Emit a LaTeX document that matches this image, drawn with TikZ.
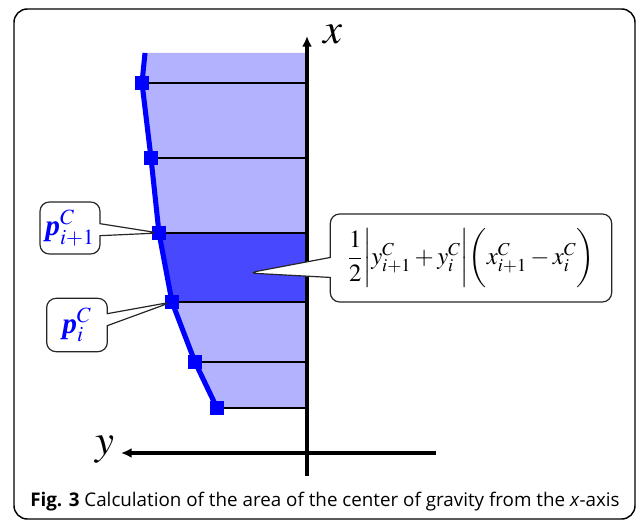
\documentclass[tikz,border=0pt]{standalone}
\usepackage{amsmath}
\usepackage{mathptmx}
\usepackage{fontspec}
\setmainfont{Liberation Serif}
\newfontfamily\capfont{Open Sans}
\usetikzlibrary{arrows.meta, shapes.callouts}
\definecolor{lightbl}{RGB}{178,178,255}
\definecolor{darkbl}{RGB}{72,72,255}
\definecolor{curvebl}{RGB}{0,0,255}

\begin{document}
\begin{tikzpicture}[x=0.75pt, y=-0.75pt,
        marker/.style={rectangle, fill=curvebl, minimum size=10.5pt, inner sep=0pt},
        tag/.style={rectangle callout, rounded corners=7pt, draw=black!85, line width=0.9pt,
                    fill=white, inner sep=2pt, callout pointer width=9pt},
        axis/.style={line width=2.6pt, -{Latex[length=8pt,width=7.5pt]}},
        ptlabel/.style={text=curvebl, font=\fontsize{22}{26}\selectfont}
    ]
        \useasboundingbox (0,0) rectangle (636,520);
        \draw[line width=1.1pt, rounded corners=10pt] (14,9) rectangle (635,519);
        % points on the curve and on the axis
        \coordinate (q0) at (145,53);
        \coordinate (q1) at (142,83);
        \coordinate (q2) at (151,158);
        \coordinate (q3) at (159,233);
        \coordinate (q4) at (172,302);
        \coordinate (q5) at (195,362);
        \coordinate (q6) at (217,408);
        \foreach \k/\yy in {0/53,1/83,2/158,3/233,4/302,5/362,6/408}
            \coordinate (t\k) at (307,\yy);
        \fill[lightbl] (q0) -- (q1) -- (q2) -- (q3) -- (q4) -- (q5) -- (q6) -- (t6) -- (t0) -- cycle;
        \fill[darkbl] (q3) -- (q4) -- (t4) -- (t3) -- cycle;
        \foreach \k in {1,...,6}
            \draw[line width=1.6pt] (q\k) -- (t\k);
        \draw[curvebl, line width=3.8pt, line join=round] (q0) -- (q1) -- (q2) -- (q3) -- (q4) -- (q5) -- (q6);
        \foreach \k in {1,...,6}
            \node[marker] (m\k) at (q\k) {};
        % axes
        \coordinate (xbot) at (307,476);
        \coordinate (xtip) at (307,36);
        \coordinate (yend) at (436,453);
        \coordinate (ytip) at (121,453);
        \draw[axis] (xbot) -- (xtip);
        \draw[axis] (yend) -- (ytip);
        \node[font=\fontsize{32}{36}\selectfont] (xlab) at (333,34) {$x$};
        \node[font=\fontsize{32}{36}\selectfont] (ylab) at (105,450) {$y$};
        % callouts
        \node[tag, minimum width=45pt, minimum height=39pt, callout absolute pointer=(m3.center), ptlabel]
            (pnext) at (70,228) {$\textbf{\textit{p}}^{C}_{i+1}$};
        \node[tag, minimum width=45.5pt, minimum height=40pt, callout absolute pointer=(m4.center), ptlabel]
            (pcur) at (77,325) {$\textbf{\textit{p}}^{C}_{i}$};
        \node[tag, minimum width=211pt, minimum height=66pt, callout pointer width=15pt,
              callout absolute pointer={(248,273)}, font=\fontsize{18.5}{22}\selectfont]
            (area) at (471,258) {$\dfrac{1}{2}\biggl|y^{C}_{i+1}+y^{C}_{i}\biggr|\biggl(x^{C}_{i+1}-x^{C}_{i}\biggr)$};
        % caption
        \node[anchor=base west, inner sep=0pt, font=\capfont\fontsize{14.1}{16}\selectfont]
            (cap) at (30,507) {\textbf{Fig. 3} Calculation of the area of the center of gravity from the \textit{x}-axis};
    \end{tikzpicture}
\end{document}
